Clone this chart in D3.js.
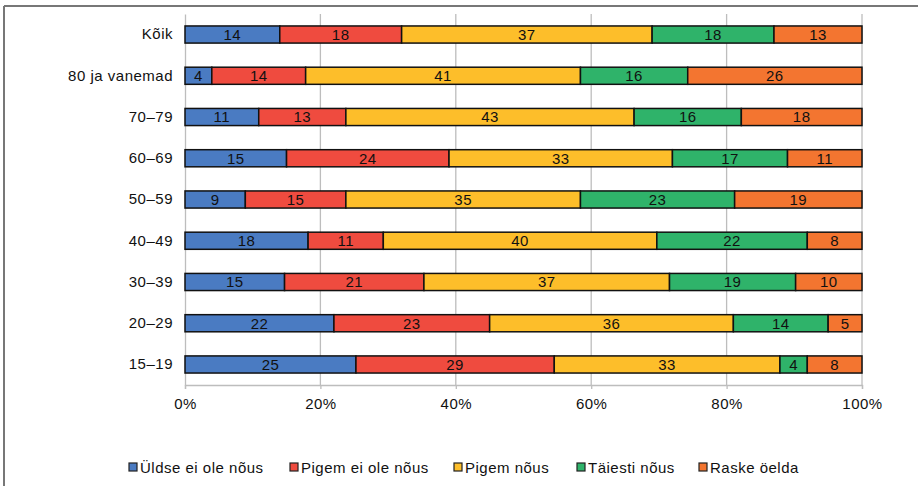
<!DOCTYPE html>
<html>
<head>
<meta charset="utf-8">
<script src="https://cdn.jsdelivr.net/npm/d3@7"></script>
<style>
  body { margin: 0; background: #fff; }
  svg text { font-family: "Liberation Sans", Arial, sans-serif; letter-spacing: 0.5px; }
</style>
</head>
<body>
<svg id="chart" width="918" height="486"></svg>
<script>
// categories, top to bottom
const groups = ['Kõik', '80 ja vanemad', '70–79', '60–69', '50–59', '40–49', '30–39', '20–29', '15–19'];
const answers = ['Üldse ei ole nõus', 'Pigem ei ole nõus', 'Pigem nõus', 'Täiesti nõus', 'Raske öelda'];
const colors = ['#4a7bc2', '#ef4b3f', '#fdbe2a', '#2fb36a', '#f37530'];

// one array per answer, in the order of groups
const yldseEi = [14, 4, 11, 15, 9, 18, 15, 22, 25];
const pigemEi = [18, 14, 13, 24, 15, 11, 21, 23, 29];
const pigemJah = [37, 41, 43, 33, 35, 40, 37, 36, 33];
const taiesti = [18, 16, 16, 17, 23, 22, 19, 14, 4];
const raske = [13, 26, 18, 11, 19, 8, 10, 5, 8];
const tickLabels = [0, 0.2, 0.4, 0.6, 0.8, 1];

const series = [yldseEi, pigemEi, pigemJah, taiesti, raske];

const svg = d3.select('#chart');
const margin = {top: 14, left: 185, right: 56, bottom: 101};
const width = 918 - margin.left - margin.right;
const height = 486 - margin.top - margin.bottom;

// frame lines (top and left only)
svg.append('line').attr('x1', 4).attr('x2', 918).attr('y1', 6).attr('y2', 6)
  .attr('stroke', '#777').attr('stroke-width', 2);
svg.append('line').attr('x1', 4).attr('x2', 4).attr('y1', 6).attr('y2', 486)
  .attr('stroke', '#777').attr('stroke-width', 2);

const g = svg.append('g').attr('transform', 'translate(' + margin.left + ',' + margin.top + ')');

const x = d3.scaleLinear().domain([0, 1]).range([0, width]);
const y = d3.scaleBand().domain(groups).range([0, height]).paddingInner(0.585).paddingOuter(0.29);

// gridlines
g.append('g').selectAll('line').data(tickLabels.slice(1)).join('line')
  .attr('x1', d => x(d)).attr('x2', d => x(d))
  .attr('y1', 0).attr('y2', height)
  .attr('stroke', '#bdbdbd').attr('stroke-width', 1.3);

// x axis
const xAxis = g.append('g').attr('transform', 'translate(0,' + height + ')')
  .call(d3.axisBottom(x).tickValues(tickLabels).tickFormat(d3.format('.0%')).tickSize(4).tickPadding(9));
xAxis.select('.domain').attr('stroke', '#bdbdbd').attr('stroke-width', 1.3);
xAxis.selectAll('.tick line').attr('stroke', '#bdbdbd').attr('stroke-width', 1.3);
xAxis.selectAll('text').attr('font-size', 15).attr('fill', '#111');

// y axis
const yAxis = g.append('g').call(d3.axisLeft(y).tickSize(0).tickPadding(12));
yAxis.select('.domain').attr('stroke', '#bdbdbd').attr('stroke-width', 1.3);
yAxis.selectAll('text').attr('font-size', 15).attr('fill', '#111');

// build stacked rows, normalized to 100 %
const rows = groups.map((grp, i) => {
  const row = {group: grp};
  answers.forEach((a, k) => { row[a] = series[k][i]; });
  return row;
});
const stack = d3.stack().keys(answers).offset(d3.stackOffsetExpand);
const layers = stack(rows);

const layerG = g.selectAll('g.layer').data(layers).join('g')
  .attr('class', 'layer')
  .attr('fill', (d, i) => colors[i]);

layerG.selectAll('rect').data(d => d).join('rect')
  .attr('x', d => x(d[0]))
  .attr('y', d => y(d.data.group))
  .attr('width', d => x(d[1]) - x(d[0]))
  .attr('height', y.bandwidth())
  .attr('stroke', '#111').attr('stroke-width', 1.5);

layerG.selectAll('text').data(d => d.map(v => Object.assign(v, {key: d.key}))).join('text')
  .attr('x', d => (x(d[0]) + x(d[1])) / 2)
  .attr('y', d => y(d.data.group) + y.bandwidth() / 2)
  .attr('dy', '0.36em')
  .attr('text-anchor', 'middle')
  .attr('font-size', 15)
  .attr('fill', '#111')
  .text(d => d.data[d.key]);

// legend
const legendX = [129, 290, 454, 577, 699];
const legend = svg.append('g').selectAll('g').data(answers).join('g')
  .attr('transform', (d, i) => 'translate(' + legendX[i] + ',468)');
legend.append('rect').attr('x', 0).attr('y', -5).attr('width', 8).attr('height', 8)
  .attr('fill', (d, i) => colors[i]).attr('stroke', '#222').attr('stroke-width', 1.2);
legend.append('text').attr('x', 11).attr('y', 0).attr('dy', '0.36em')
  .attr('font-size', 15).attr('fill', '#111').text(d => d);
</script>
</body>
</html>
